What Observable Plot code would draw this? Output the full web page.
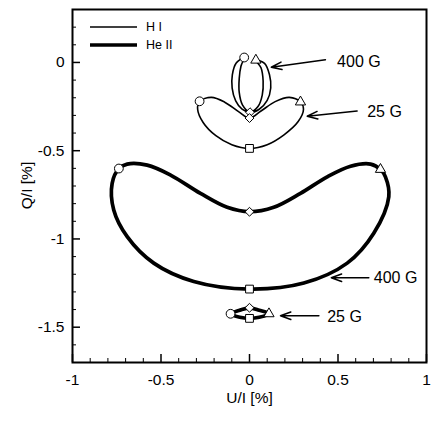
<!DOCTYPE html>
<html><head><meta charset="utf-8">
<script src="https://cdn.jsdelivr.net/npm/d3@7"></script>
<script src="https://cdn.jsdelivr.net/npm/@observablehq/plot@0.6"></script>
<style>
html,body{margin:0;padding:0;background:#fff;}
#wrap{position:relative;width:436px;height:436px;}
#legend{position:absolute;left:0;top:0;pointer-events:none;}
</style>
</head><body><div id="wrap"></div>
<script>
// ---- H I, 400 G (U/I, Q/I in %) ----
const hi400U = [-0.030,-0.075,-0.097,-0.098,-0.078,-0.042,0.003,0.048,0.072,0.077,0.065,0.036,0.085,0.113,0.120,0.100,0.055,0.003,-0.040,-0.058,-0.058,-0.048];
const hi400Q = [0.028,-0.003,-0.070,-0.145,-0.218,-0.265,-0.282,-0.250,-0.185,-0.105,-0.030,0.013,-0.005,-0.070,-0.145,-0.215,-0.265,-0.282,-0.240,-0.170,-0.090,-0.020];
// ---- H I, 25 G ----
const hi25U = [-0.282,-0.215,-0.140,-0.060,0.000,0.065,0.145,0.225,0.288,0.305,0.275,0.195,0.100,0.000,-0.100,-0.190,-0.262,-0.293];
const hi25Q = [-0.220,-0.198,-0.225,-0.280,-0.315,-0.275,-0.222,-0.198,-0.224,-0.265,-0.335,-0.410,-0.466,-0.487,-0.466,-0.415,-0.340,-0.265];
// ---- He II, 400 G ----
const he400U = [-0.738,-0.691,-0.578,-0.446,-0.277,-0.126,0.000,0.137,0.288,0.439,0.571,0.684,0.740,0.768,0.787,0.702,0.552,0.307,0.000,-0.315,-0.541,-0.691,-0.767,-0.776];
const he400Q = [-0.601,-0.576,-0.582,-0.638,-0.742,-0.821,-0.846,-0.821,-0.742,-0.648,-0.588,-0.576,-0.606,-0.648,-0.761,-0.968,-1.137,-1.250,-1.284,-1.241,-1.137,-0.987,-0.836,-0.685];
// ---- He II, 25 G ----
const he25U = [-0.107,-0.055,0.000,0.055,0.110,0.055,0.000,-0.055];
const he25Q = [-1.424,-1.404,-1.390,-1.404,-1.424,-1.444,-1.450,-1.444];

// ---- marker points ----
const circleU = [-0.030,-0.282,-0.738,-0.107];
const circleQ = [0.028,-0.220,-0.601,-1.424];
const triangleU = [0.036,0.288,0.740,0.110];
const triangleQ = [0.013,-0.224,-0.606,-1.424];
const diamondU = [0.003,0.000,0.000,0.000];
const diamondQ = [-0.282,-0.315,-0.846,-1.390];
const squareU = [0.000,0.000,0.000];
const squareQ = [-0.487,-1.284,-1.450];

// ---- annotations ----
const annLabels = ["400 G","25 G","400 G","25 G"];
const annFromU = [0.429,0.608,0.674,0.392];
const annFromQ = [0.015,-0.275,-1.220,-1.435];
const annToU = [0.123,0.326,0.462,0.175];
const annToQ = [-0.027,-0.305,-1.220,-1.435];
const annTextU = [0.495,0.665,0.702,0.439];
const annTextQ = [0.002,-0.281,-1.222,-1.439];

// ---- axes ----
const majorX = [-1,-0.5,0,0.5,1];
const minorX = [-0.9,-0.8,-0.7,-0.6,-0.4,-0.3,-0.2,-0.1,0.1,0.2,0.3,0.4,0.6,0.7,0.8,0.9];
const majorY = [0,-0.5,-1,-1.5];
const minorY = [0.2,0.1,-0.1,-0.2,-0.3,-0.4,-0.6,-0.7,-0.8,-0.9,-1.1,-1.2,-1.3,-1.4,-1.6];
const xLabel = "U/I [%]";
const yLabel = "Q/I [%]";
const legendNames = ["H I","He II"];

const FONT = "'Liberation Sans', Arial, sans-serif";
const pts = (U, Q) => U.map((u, i) => ({u, q: Q[i]}));
const ann = annLabels.map((t, i) => ({t, x1: annFromU[i], y1: annFromQ[i], x2: annToU[i], y2: annToQ[i], tx: annTextU[i], ty: annTextQ[i]}));

const W = 436, H = 436, mL = 72, mR = 10, mT = 9, mB = 74;
const pw = W - mL - mR, ph = H - mT - mB;

const chart = Plot.plot({
  width: W, height: H,
  marginLeft: mL, marginRight: mR, marginTop: mT, marginBottom: mB,
  x: {domain: [-1, 1]},
  y: {domain: [-1.7, 0.3]},
  style: {fontFamily: FONT, fontSize: "15.5px", background: "white", color: "black"},
  marks: [
    Plot.line(pts(hi400U, hi400Q), {x: "u", y: "q", curve: "catmull-rom-closed", stroke: "black", strokeWidth: 1.6}),
    Plot.line(pts(hi25U, hi25Q), {x: "u", y: "q", curve: "catmull-rom-closed", stroke: "black", strokeWidth: 1.6}),
    Plot.line(pts(he400U, he400Q), {x: "u", y: "q", curve: "catmull-rom-closed", stroke: "black", strokeWidth: 3.7}),
    Plot.line(pts(he25U, he25Q), {x: "u", y: "q", curve: "catmull-rom-closed", stroke: "black", strokeWidth: 3.7}),
    Plot.dot(pts(squareU, squareQ), {x: "u", y: "q", symbol: "square", r: 4.4, fill: "white", stroke: "black", strokeWidth: 1}),
    Plot.dot(pts(diamondU, diamondQ), {x: "u", y: "q", symbol: "diamond2", r: 4.0, fill: "white", stroke: "black", strokeWidth: 1}),
    Plot.dot(pts(circleU, circleQ), {x: "u", y: "q", symbol: "circle", r: 4.4, fill: "white", stroke: "black", strokeWidth: 1}),
    Plot.dot(pts(triangleU, triangleQ), {x: "u", y: "q", symbol: "triangle", r: 3.8, fill: "white", stroke: "black", strokeWidth: 1}),
    Plot.arrow(ann, {x1: "x1", y1: "y1", x2: "x2", y2: "y2", stroke: "black", strokeWidth: 1.5, headLength: 11, headAngle: 40}),
    Plot.text(ann, {x: "tx", y: "ty", text: "t", textAnchor: "start", fontSize: 16, fill: "black"}),
    Plot.tickX(minorX, {insetTop: ph - 4, stroke: "black", strokeWidth: 1}),
    Plot.tickX(majorX, {insetTop: ph - 8, stroke: "black", strokeWidth: 1.5}),
    Plot.tickY(minorY, {insetRight: pw - 4, stroke: "black", strokeWidth: 1}),
    Plot.tickY(majorY, {insetRight: pw - 8, stroke: "black", strokeWidth: 1.5}),
    Plot.axisX(majorX, {tickSize: 0, tickPadding: 11, tickFormat: d => String(d), label: null, fontSize: 15.5}),
    Plot.axisY(majorY, {tickSize: 0, tickPadding: 8, tickFormat: d => String(d), label: null, fontSize: 15.5}),
    Plot.text([xLabel], {frameAnchor: "bottom", text: d => d, dy: 40, fontSize: 15.5, fill: "black"}),
    Plot.frame({stroke: "black", strokeWidth: 2})
  ]
});

const wrap = document.getElementById("wrap");
wrap.appendChild(chart);

// y-axis title, rotated, left of the frame
d3.select(chart).append("text")
  .attr("transform", `translate(${mL - 45},${mT + ph / 2}) rotate(-90)`)
  .attr("text-anchor", "middle").attr("dy", "0.35em")
  .attr("font-family", FONT).attr("font-size", 15.5).attr("fill", "black")
  .text(yLabel);

// legend overlay (inside the frame, top-left)
const lg = d3.select(wrap).append("svg").attr("id", "legend").attr("width", 200).attr("height", 60);
const widths = [1.6, 3.7];
legendNames.forEach((name, i) => {
  const y = 27 + i * 18;
  lg.append("line").attr("x1", 90).attr("x2", 137).attr("y1", y).attr("y2", y)
    .attr("stroke", "black").attr("stroke-width", widths[i]);
  lg.append("text").attr("x", 146).attr("y", y).attr("dy", "0.35em")
    .attr("font-family", FONT).attr("font-size", 12.5)
    .text(name);
});
</script>
</body></html>
